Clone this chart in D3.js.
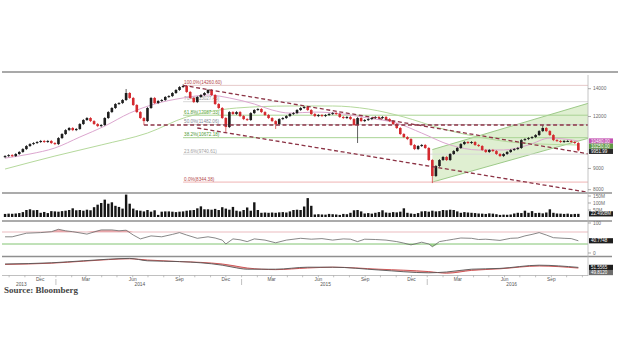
<!DOCTYPE html>
<html>
<head>
<meta charset="utf-8">
<script src="https://cdn.jsdelivr.net/npm/d3@7"></script>
<style>
  body { margin: 0; background: #fff; }
  svg { display: block; }
</style>
</head>
<body>
<svg id="chart" width="620" height="355"></svg>
<script>
// weekly candles, first week starting 23 Sep 2013
var weekStart = new Date(2013, 8, 23);
var firstOpen = 9580;
var closes = [
  9640, 9690, 9640, 9750, 9860, 10020, 10190, 10300, 10360, 10420,
  10480, 10420, 10480, 10360, 10300, 10650, 10890, 11130, 11260, 11130,
  11200, 11510, 11770, 11900, 11700, 11510, 11380, 11450, 11900, 12300,
  12580, 12860, 12930, 13150, 13670, 13300, 12790, 12300, 11900, 11700,
  12580, 13300, 12930, 13080, 13150, 13370, 13440, 13670, 13900, 14130,
  14210, 13750, 13300, 13000, 13370, 13520, 13670, 13900, 13520, 12860,
  12580, 11900, 11320, 12300, 12170, 12300, 12030, 11830, 11770, 12230,
  12440, 12510, 12300, 12100, 11900, 11700, 11510, 11830, 11900, 12030,
  12170, 12230, 12440, 12580, 12650, 12440, 12170, 12030, 12100, 12030,
  12100, 12170, 12230, 12170, 11970, 11900, 11970, 11830, 11450, 11900,
  11700, 11770, 11830, 11900, 11970, 11900, 11970, 11830, 11700, 11510,
  11260, 10890, 10710, 10590, 10250, 10020, 10190, 10250, 10080, 9430,
  8630, 9120, 9430, 9590, 9430, 9750, 9910, 10080, 10300, 10420,
  10360, 10420, 10250, 10190, 9970, 9860, 9970, 9910, 9750, 9640,
  9750, 9860, 9970, 10020, 10080, 10530, 10590, 10650, 10710, 10830,
  11070, 11260, 11070, 10830, 10530, 10480, 10420, 10480, 10480, 10420,
  10360, 9951.99
];
// long wicks (candle index -> price)
var wickHigh = {34: 13900, 50: 14260.60, 151: 11380};
var wickLow = {39: 11510, 62: 11070, 63: 11640, 76: 11260, 99: 10420, 120: 8344.38};

// volume in millions
var volumes = [
  22, 24, 23, 25, 28, 35, 50, 55, 48, 50,
  30, 36, 28, 42, 40, 38, 42, 45, 50, 62,
  48, 50, 45, 52, 48, 70, 88, 100, 124, 95,
  105, 80, 72, 60, 160, 95, 60, 48, 45, 40,
  50, 38, 48, 15, 38, 40, 40, 38, 35, 38,
  40, 45, 48, 50, 62, 76, 55, 55, 52, 58,
  50, 70, 60, 52, 72, 45, 40, 50, 68, 45,
  105, 50, 30, 32, 30, 32, 30, 33, 35, 32,
  40, 50, 52, 50, 75, 135, 80, 18, 20, 18,
  17, 22, 20, 18, 15, 22, 20, 30, 48, 50,
  40, 25, 28, 24, 30, 35, 48, 32, 30, 35,
  33, 38, 62, 30, 25, 22, 28, 40, 42, 38,
  45, 40, 42, 50, 48, 52, 50, 40, 30, 35,
  32, 30, 28, 25, 24, 22, 26, 24, 20, 15,
  17, 16, 18, 25, 30, 28, 45, 30, 42, 28,
  30, 26, 32, 55, 30, 25, 24, 22, 24, 20,
  22, 22.4908
];

// moving averages, [candle index, value]
var maShort = [[0, 9530], [7, 9750], [14, 10080], [21, 10710], [28, 11380], [35, 12230], [42, 12860],
  [50, 13300], [57, 13520], [63, 13300], [70, 12860], [75, 12440], [80, 12230], [87, 12300],
  [95, 12170], [102, 11900], [110, 11570], [117, 10950], [125, 10250], [133, 9970], [140, 9970],
  [147, 10250], [153, 10650], [161, 10480]];
var maLong = [[0, 8970], [14, 9640], [27, 10250], [40, 10950], [51, 11970], [57, 12300], [65, 12580],
  [80, 12720], [92, 12720], [102, 12510], [112, 11970], [122, 11260], [133, 10710], [145, 10360],
  [161, 10250]];

// fibonacci retracement levels
var fibLevels = ["100.0%", "76.4%", "61.8%", "50.0%", "38.2%", "23.6%", "0.0%"];
var fibValues = [14260.60, 13027.45, 12087.33, 11482.06, 10672.18, 9740.61, 8344.38];
var fibStart = 50;

// trend lines, [candle index, price]
var trendUpper = [[50, 14260.60], [164, 9750]];
var trendLower = [[54, 11260], [164, 7880]];
var supportLine = [[39, 11450], [164, 11450]];
var channelUpper = [[120, 9990], [164, 12930]];
var channelLower = [[120, 8344.38], [164, 10650]];

// RSI, [candle index, value]
var rsi = [[0, 54], [2, 54], [6, 66], [10, 68], [13, 71], [15, 79], [17, 74], [19, 71], [23, 63], [27, 77],
  [30, 77], [32, 74], [34, 76], [36, 60], [38, 47], [41, 57], [44, 54], [47, 62], [49, 68], [51, 60],
  [54, 49], [57, 54], [59, 50], [61, 43], [62, 30], [64, 47], [66, 44], [68, 38], [70, 47], [73, 43],
  [76, 34], [79, 43], [83, 49], [86, 46], [89, 48], [92, 43], [95, 47], [97, 46], [99, 38], [101, 46],
  [104, 45], [107, 43], [110, 38], [112, 33], [114, 27], [117, 36], [119, 30], [120, 21], [122, 38],
  [124, 42], [126, 46], [128, 50], [131, 49], [133, 45], [135, 46], [137, 44], [139, 42], [142, 49],
  [144, 50], [146, 57], [148, 62], [150, 68], [152, 60], [154, 51], [157, 49], [159, 48], [161, 40.7748]];

// lower study: two lines
var studyIdx = [0, 13, 22, 29, 35, 40, 49, 55, 61, 64, 68, 76, 85, 92, 105, 119, 124, 131, 139, 150, 161];
var studyFast = [60, 63, 68, 72, 74, 68, 66, 63, 57, 52, 47, 47, 52, 52, 45, 38, 40, 47, 49, 57, 51.5565];
var studySlow = [59, 62, 67, 71, 73, 70, 66, 64, 60, 56, 50, 46, 50, 52, 47, 41, 37, 44, 48, 55, 49.8120];

var priceTicks = [14000, 12000, 9000, 8000];
var volTicks = [150, 100, 50];
var quarterMonths = ["Mar", "Jun", "Sep", "Dec"];
var yearLabels = [["2013", new Date(2013, 9, 25)], ["2014", new Date(2014, 5, 15)],
  ["2015", new Date(2015, 5, 15)], ["2016", new Date(2016, 5, 15)]];

var svg = d3.select("#chart");
var axisX = 588;
var font = "'Liberation Sans', Arial, sans-serif";

var dateAt = function(i) { return d3.timeWeek.offset(weekStart, i); };

var x = d3.scaleTime()
          .domain([new Date(2013, 8, 17), new Date(2016, 10, 12)])
          .range([2, axisX]);
var yP = d3.scaleLog().domain([8000, 14000]).range([189.7, 88.7]);
var yV = d3.scaleLinear().domain([0, 150]).range([217, 196]);
var yR = d3.scaleLinear().domain([0, 100]).range([253, 223]);
var yS = d3.scaleLinear().domain([35, 75]).range([274, 258]);

var defs = svg.append("defs");
defs.append("clipPath").attr("id", "clipPrice")
    .append("rect").attr("x", 2).attr("y", 73).attr("width", axisX - 2).attr("height", 119);

// ---------- price panel ----------
var gP = svg.append("g").attr("clip-path", "url(#clipPrice)");

var ptLine = d3.line().x(function(d) { return x(dateAt(d[0])); }).y(function(d) { return yP(d[1]); });

// green rising channel
var chanPoly = channelUpper.concat(channelLower.slice().reverse());
gP.append("path")
  .attr("d", ptLine(chanPoly) + "Z")
  .attr("fill", "#d9ecc9")
  .attr("fill-opacity", 0.85);
[channelUpper, channelLower].forEach(function(l) {
  gP.append("path").attr("d", ptLine(l)).attr("fill", "none")
    .attr("stroke", "#93c47d").attr("stroke-width", 0.9);
});

// fibonacci lines
var fibLineColor = ["#e6c9c9", "#d8d8d8", "#a9d494", "#cfcfcf", "#a9d494", "#d8d8d8", "#efb4b4"];
var fibTextColor = ["#b4474a", "#9a9a9a", "#4f9a35", "#7f8c99", "#4f9a35", "#a0a0a0", "#b4474a"];
fibValues.forEach(function(v, k) {
  gP.append("line")
    .attr("x1", x(dateAt(fibStart))).attr("x2", axisX)
    .attr("y1", yP(v)).attr("y2", yP(v))
    .attr("stroke", fibLineColor[k]).attr("stroke-width", 1);
  gP.append("text")
    .attr("x", x(dateAt(fibStart)) + 1).attr("y", yP(v) - 1.2)
    .attr("font-family", font).attr("font-size", 4.6)
    .attr("fill", fibTextColor[k])
    .text(fibLevels[k] + "(" + v.toFixed(2) + ")");
});

// moving averages
var maLine = d3.line().curve(d3.curveMonotoneX)
               .x(function(d) { return x(dateAt(d[0])); }).y(function(d) { return yP(d[1]); });
gP.append("path").attr("d", maLine(maLong)).attr("fill", "none")
  .attr("stroke", "#b5d99c").attr("stroke-width", 1);
gP.append("path").attr("d", maLine(maShort)).attr("fill", "none")
  .attr("stroke", "#dca6cf").attr("stroke-width", 1);

// candles
var candles = closes.map(function(c, i) {
  var o = i === 0 ? firstOpen : closes[i - 1];
  var hi = Math.max(o, c, wickHigh[i] || 0);
  var lo = Math.min(o, c, wickLow[i] || Infinity);
  return {date: dateAt(i), o: o, c: c, hi: hi, lo: lo};
});
var colorOf = function(d) { return d.c >= d.o ? "#1e1e1e" : "#d42a2f"; };

gP.selectAll(".wick").data(candles).enter().append("line")
  .attr("x1", function(d) { return x(d.date); })
  .attr("x2", function(d) { return x(d.date); })
  .attr("y1", function(d) { return yP(d.hi) - 1; })
  .attr("y2", function(d) { return yP(d.lo) + 1; })
  .attr("stroke", colorOf).attr("stroke-width", 0.7);

gP.selectAll(".body").data(candles).enter().append("rect")
  .attr("x", function(d) { return x(d.date) - 1.3; })
  .attr("width", 2.6)
  .attr("y", function(d) { return yP(Math.max(d.o, d.c)); })
  .attr("height", function(d) { return Math.max(1, Math.abs(yP(d.o) - yP(d.c))); })
  .attr("fill", colorOf);

// dashed trend lines
[trendUpper, trendLower, supportLine].forEach(function(l) {
  gP.append("path").attr("d", ptLine(l)).attr("fill", "none")
    .attr("stroke", "#8c3345").attr("stroke-width", 1.3)
    .attr("stroke-dasharray", "4,2.6");
});

// ---------- volume panel ----------
svg.append("g").selectAll("rect").data(volumes).enter().append("rect")
   .attr("x", function(d, i) { return x(dateAt(i)) - 1.2; })
   .attr("width", 2.4)
   .attr("y", function(d) { return yV(d); })
   .attr("height", function(d) { return yV(0) - yV(d); })
   .attr("fill", "#151515");

// ---------- RSI panel ----------
var gR = svg.append("g");
gR.append("line").attr("x1", 2).attr("x2", axisX).attr("y1", yR(70)).attr("y2", yR(70))
  .attr("stroke", "#e9b3b8").attr("stroke-width", 0.9);
gR.append("line").attr("x1", 2).attr("x2", axisX).attr("y1", yR(30)).attr("y2", yR(30))
  .attr("stroke", "#74bd62").attr("stroke-width", 0.9);
var rx = function(d) { return x(dateAt(d[0])); };
gR.append("path")
  .attr("d", d3.area().x(rx).y0(yR(70)).y1(function(d) { return yR(Math.max(70, d[1])); })(rsi))
  .attr("fill", "#e79a9e").attr("fill-opacity", 0.8);
gR.append("path")
  .attr("d", d3.area().x(rx).y0(yR(30)).y1(function(d) { return yR(Math.min(30, d[1])); })(rsi))
  .attr("fill", "#8fcf7c").attr("fill-opacity", 0.8);
gR.append("path")
  .attr("d", d3.line().x(rx).y(function(d) { return yR(d[1]); })(rsi))
  .attr("fill", "none").attr("stroke", "#6a6a6a").attr("stroke-width", 0.8);

// ---------- lower study panel ----------
var gS = svg.append("g");
var sx = function(d, i) { return x(dateAt(studyIdx[i])); };
gS.append("path")
  .attr("d", d3.area().curve(d3.curveMonotoneX).x(sx)
              .y0(function(d, i) { return yS(studySlow[i]); })
              .y1(function(d, i) { return yS(studyFast[i]); })(studyIdx))
  .attr("fill", "#e7a1a1").attr("fill-opacity", 0.85);
gS.append("path")
  .attr("d", d3.line().curve(d3.curveMonotoneX).x(sx).y(function(d, i) { return yS(studySlow[i]); })(studyIdx))
  .attr("fill", "none").attr("stroke", "#c94848").attr("stroke-width", 0.9);
gS.append("path")
  .attr("d", d3.line().curve(d3.curveMonotoneX).x(sx).y(function(d, i) { return yS(studyFast[i]); })(studyIdx))
  .attr("fill", "none").attr("stroke", "#555").attr("stroke-width", 0.9);

// ---------- frame ----------
svg.append("line").attr("x1", 2).attr("x2", 618).attr("y1", 72).attr("y2", 72)
   .attr("stroke", "#a9a9a9").attr("stroke-width", 1.8);
[193, 221, 256.5].forEach(function(yy) {
  svg.append("line").attr("x1", 2).attr("x2", 612).attr("y1", yy).attr("y2", yy)
     .attr("stroke", "#8f8f8f").attr("stroke-width", 1.5);
});
svg.append("line").attr("x1", 2).attr("x2", axisX).attr("y1", 275.5).attr("y2", 275.5)
   .attr("stroke", "#b0b0b0").attr("stroke-width", 0.8);
svg.append("line").attr("x1", axisX).attr("x2", axisX).attr("y1", 75).attr("y2", 276)
   .attr("stroke", "#b5b5b5").attr("stroke-width", 0.8);

// ---------- right axes ----------
var gA = svg.append("g").attr("font-family", font).attr("font-size", 4.8).attr("fill", "#6a6a6a");
var tickRow = function(yy, label) {
  gA.append("line").attr("x1", axisX).attr("x2", axisX + 3).attr("y1", yy).attr("y2", yy)
    .attr("stroke", "#888").attr("stroke-width", 0.7);
  gA.append("text").attr("x", axisX + 5).attr("y", yy + 1.7).text(label);
};
priceTicks.forEach(function(t) { tickRow(yP(t), t); });
volTicks.forEach(function(t) { tickRow(yV(t), t + "M"); });
tickRow(yR(100), "100");
tickRow(yR(0), "0");

var tag = function(yy, label, color) {
  svg.append("rect").attr("x", axisX + 1).attr("y", yy - 2.6).attr("width", 24).attr("height", 5.2)
     .attr("fill", color);
  svg.append("text").attr("x", axisX + 3).attr("y", yy + 1.6)
     .attr("font-family", font).attr("font-size", 4.5).attr("fill", "#fff").text(label);
};
// price tags stacked downward so they do not cover each other
var priceTags = [
  [maShort[maShort.length - 1][1], "#c352b2"],
  [maLong[maLong.length - 1][1], "#5f9a45"],
  [closes[closes.length - 1], "#2a2a2a"]
];
var tagY = yP(priceTags[0][0]) - 0.5;
priceTags.forEach(function(t) {
  tagY = Math.max(tagY, yP(t[0]));
  tag(tagY, t[0].toFixed(2), t[1]);
  tagY += 5.2;
});
tag(yV(volumes[volumes.length - 1]), volumes[volumes.length - 1].toFixed(4) + "M", "#1e1e1e");
tag(yR(rsi[rsi.length - 1][1]), rsi[rsi.length - 1][1].toFixed(4), "#1e1e1e");
var sFast = studyFast[studyFast.length - 1];
tag(yS(sFast), sFast.toFixed(4), "#1e1e1e");
tag(yS(sFast) + 5.2, studySlow[studySlow.length - 1].toFixed(4), "#6d6d6d");

// ---------- time axis ----------
var gT = svg.append("g").attr("font-family", font).attr("font-size", 4.8).attr("fill", "#555");
var months = d3.timeMonth.range(new Date(2013, 9, 1), new Date(2016, 10, 2));
months.forEach(function(m) {
  gT.append("line").attr("x1", x(m)).attr("x2", x(m)).attr("y1", 275.5).attr("y2", 277.3)
    .attr("stroke", "#999").attr("stroke-width", 0.6);
  if (m.getMonth() % 3 === 2) {
    gT.append("text").attr("x", x(m)).attr("y", 281).attr("text-anchor", "middle")
      .text(quarterMonths[(m.getMonth() - 2) / 3]);
  }
  if (m.getMonth() === 0) {
    gT.append("line").attr("x1", x(m)).attr("x2", x(m)).attr("y1", 279).attr("y2", 285)
      .attr("stroke", "#999").attr("stroke-width", 0.6);
  }
});
yearLabels.forEach(function(d) {
  gT.append("text").attr("x", x(d[1])).attr("y", 285.5).attr("text-anchor", "middle").text(d[0]);
});

svg.append("text").attr("x", 4).attr("y", 293)
   .attr("font-family", "'Liberation Serif', 'DejaVu Serif', serif")
   .attr("font-size", 9).attr("font-weight", "bold").attr("fill", "#444")
   .text("Source: Bloomberg");
</script>
</body>
</html>
